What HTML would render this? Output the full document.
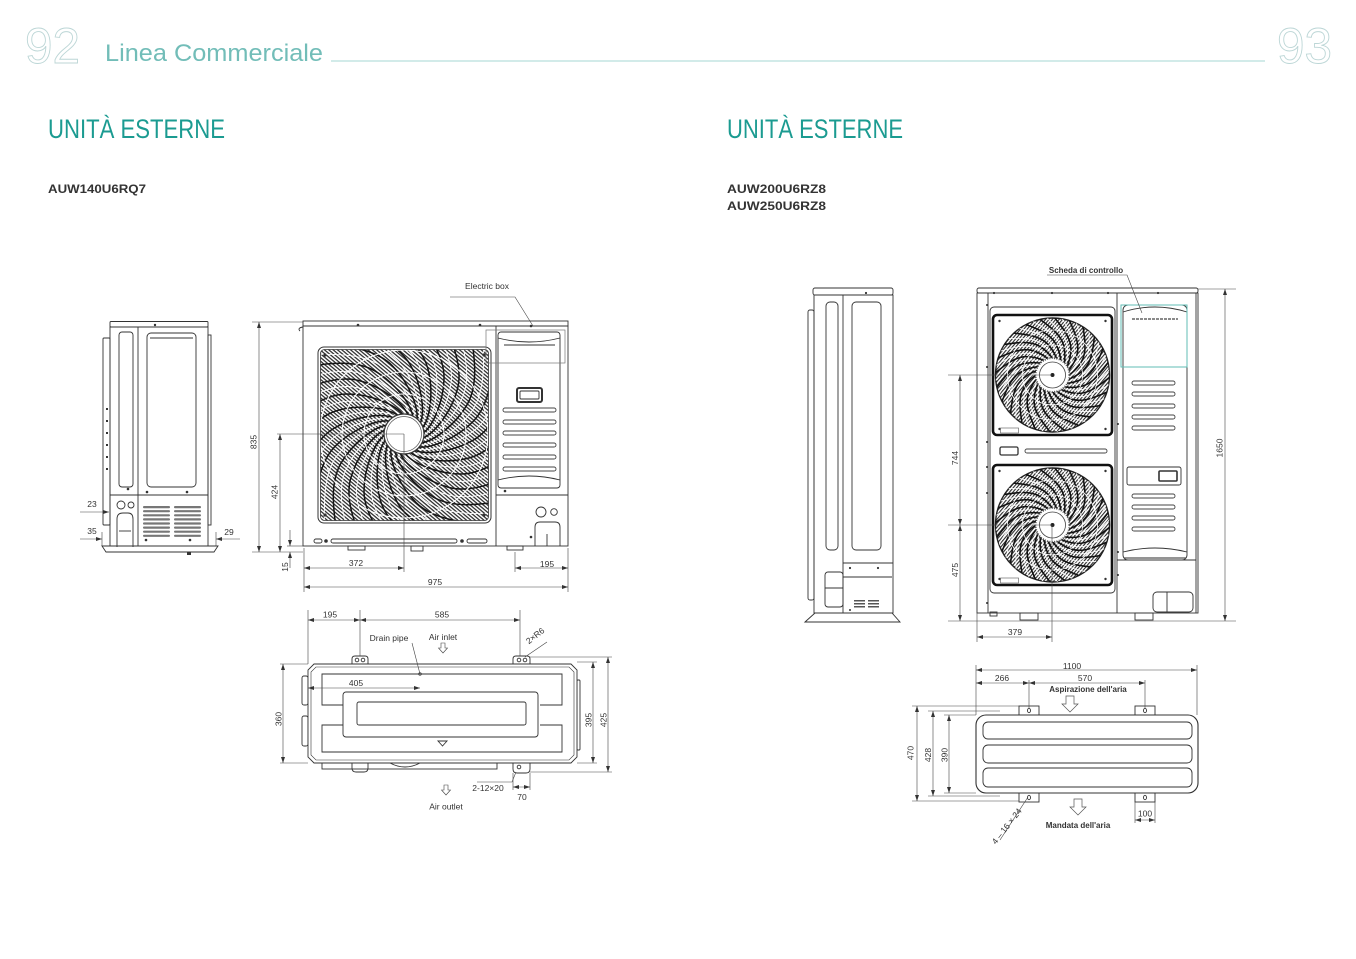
<!DOCTYPE html>
<html><head><meta charset="utf-8"><style>
html,body{margin:0;padding:0;background:#fff;}
svg{display:block;}
.t{font-family:"Liberation Sans",sans-serif;font-size:8.5px;fill:#333;}
.o{fill:none;stroke:#333;stroke-width:0.9;}
.d{fill:none;stroke:#444;stroke-width:0.6;}
.dm{fill:none;stroke:#444;stroke-width:0.6;marker-start:url(#ar);marker-end:url(#ar);}
.de{fill:none;stroke:#444;stroke-width:0.6;marker-end:url(#ar);}
.lv{fill:#fff;stroke:#444;stroke-width:0.9;}
</style></head><body>
<svg width="1356" height="959" viewBox="0 0 1356 959" xmlns="http://www.w3.org/2000/svg">
<defs>
<marker id="ar" viewBox="0 0 6 4" markerWidth="6" markerHeight="4" refX="6" refY="2" orient="auto-start-reverse" markerUnits="userSpaceOnUse"><path d="M0,0L6,2L0,4z" fill="#333"/></marker>
<pattern id="hp" width="2.8" height="2.8" patternUnits="userSpaceOnUse" patternTransform="rotate(40)"><rect width="2.8" height="1.25" fill="#2b2b2b"/></pattern>
<pattern id="hp2" width="2.6" height="2.6" patternUnits="userSpaceOnUse" patternTransform="rotate(-50)"><rect width="2.6" height="1.1" fill="#2b2b2b"/></pattern>
<path id="s1" d="M18,0 C30,-8 40,-35 40,-57 S25,-100 0,-130" fill="none"/>
<g id="sp">
<use href="#s1"/><use href="#s1" transform="rotate(15)"/><use href="#s1" transform="rotate(30)"/><use href="#s1" transform="rotate(45)"/>
<use href="#s1" transform="rotate(60)"/><use href="#s1" transform="rotate(75)"/><use href="#s1" transform="rotate(90)"/><use href="#s1" transform="rotate(105)"/>
<use href="#s1" transform="rotate(120)"/><use href="#s1" transform="rotate(135)"/><use href="#s1" transform="rotate(150)"/><use href="#s1" transform="rotate(165)"/>
<use href="#s1" transform="rotate(180)"/><use href="#s1" transform="rotate(195)"/><use href="#s1" transform="rotate(210)"/><use href="#s1" transform="rotate(225)"/>
<use href="#s1" transform="rotate(240)"/><use href="#s1" transform="rotate(255)"/><use href="#s1" transform="rotate(270)"/><use href="#s1" transform="rotate(285)"/>
<use href="#s1" transform="rotate(300)"/><use href="#s1" transform="rotate(315)"/><use href="#s1" transform="rotate(330)"/><use href="#s1" transform="rotate(345)"/>
</g>
<clipPath id="cl1"><rect x="320.5" y="349.5" width="168" height="171" rx="4"/></clipPath>
<clipPath id="cl2"><circle cx="0" cy="0" r="57"/></clipPath>
<g id="rfan">
<rect x="-59.5" y="-60" width="119" height="120" rx="4" fill="#fff" stroke="#111" stroke-width="2.6"/>
<circle r="57" fill="url(#hp2)" stroke="#222" stroke-width="1.4"/>
<g clip-path="url(#cl2)">
<use href="#sp" transform="scale(0.46)" stroke="#111" stroke-width="3.4"/>
<use href="#sp" transform="scale(0.46) rotate(7.5)" stroke="#fff" stroke-width="1.8"/>
<circle r="30" fill="none" stroke="#fff" stroke-width="0.8"/>
<circle r="45" fill="none" stroke="#fff" stroke-width="0.8"/>
</g>
<circle r="17" fill="#fff" stroke="#555" stroke-width="2" stroke-dasharray="1 1.4"/>
<circle r="13" fill="#fff" stroke="#444" stroke-width="0.8"/>
<circle r="2" fill="#222"/>
<circle cx="-53" cy="-54" r="1.2" fill="#333"/><circle cx="53" cy="-54" r="1.2" fill="#333"/>
<circle cx="-53" cy="54" r="1.2" fill="#333"/><circle cx="53" cy="54" r="1.2" fill="#333"/>
<rect x="-52" y="53" width="18" height="5" fill="#fff" stroke="#555" stroke-width="0.6"/>
</g>
</defs>

<!-- HEADER -->
<text x="25" y="63" font-family="Liberation Sans, sans-serif" font-size="50" fill="none" stroke="#bcd6d6" stroke-width="0.9" textLength="55" lengthAdjust="spacingAndGlyphs">92</text>
<text x="105" y="61" font-family="Liberation Sans, sans-serif" font-size="24" fill="#72bdb8" textLength="218" lengthAdjust="spacingAndGlyphs">Linea Commerciale</text>
<line x1="331" y1="61" x2="1265" y2="61" stroke="#a6d7d3" stroke-width="1"/>
<text x="1277" y="63" font-family="Liberation Sans, sans-serif" font-size="50" fill="none" stroke="#bcd6d6" stroke-width="0.9" textLength="55" lengthAdjust="spacingAndGlyphs">93</text>

<text x="48" y="138" font-family="Liberation Sans, sans-serif" font-size="27" fill="#1b9b91" textLength="177" lengthAdjust="spacingAndGlyphs">UNITÀ ESTERNE</text>
<text x="727" y="138" font-family="Liberation Sans, sans-serif" font-size="27" fill="#1b9b91" textLength="176" lengthAdjust="spacingAndGlyphs">UNITÀ ESTERNE</text>

<text x="48" y="193" font-family="Liberation Sans, sans-serif" font-size="12" font-weight="bold" fill="#333" textLength="98" lengthAdjust="spacingAndGlyphs">AUW140U6RQ7</text>
<text x="727" y="193" font-family="Liberation Sans, sans-serif" font-size="12" font-weight="bold" fill="#333" textLength="99" lengthAdjust="spacingAndGlyphs">AUW200U6RZ8</text>
<text x="727" y="210" font-family="Liberation Sans, sans-serif" font-size="12" font-weight="bold" fill="#333" textLength="99" lengthAdjust="spacingAndGlyphs">AUW250U6RZ8</text>

<!-- ============ LEFT: SIDE VIEW ============ -->
<g class="o">
<rect x="110" y="321.5" width="98" height="5.5" rx="1"/>
<rect x="110" y="327" width="98" height="219"/>
<rect x="103" y="338" width="7" height="187" rx="1"/>
<rect x="208" y="335" width="3" height="190"/>
<line x1="138" y1="327" x2="138" y2="546"/>
<rect x="119" y="332" width="14" height="155" rx="3"/>
<rect x="147" y="333" width="49" height="154" rx="4"/>
<line x1="150" y1="338" x2="193" y2="338"/>
<line x1="110" y1="495" x2="208" y2="495"/>
<circle cx="121" cy="505" r="4"/><circle cx="131" cy="505" r="3"/>
<path d="M117,547V519Q117,513 123,513H128Q133,513 133,519V547"/>
<line x1="119" y1="531" x2="131" y2="531"/>
<path d="M102,546H218L214,552H106Z"/>
</g>
<g fill="#777">
<rect x="143" y="506" width="27" height="2.2" rx="1"/><rect x="143" y="510.1" width="27" height="2.2" rx="1"/><rect x="143" y="514.2" width="27" height="2.2" rx="1"/><rect x="143" y="518.3" width="27" height="2.2" rx="1"/>
<rect x="143" y="522.4" width="27" height="2.2" rx="1"/><rect x="143" y="526.5" width="27" height="2.2" rx="1"/><rect x="143" y="530.6" width="27" height="2.2" rx="1"/><rect x="143" y="534.7" width="27" height="2.2" rx="1"/>
<rect x="174" y="506" width="27" height="2.2" rx="1"/><rect x="174" y="510.1" width="27" height="2.2" rx="1"/><rect x="174" y="514.2" width="27" height="2.2" rx="1"/><rect x="174" y="518.3" width="27" height="2.2" rx="1"/>
<rect x="174" y="522.4" width="27" height="2.2" rx="1"/><rect x="174" y="526.5" width="27" height="2.2" rx="1"/><rect x="174" y="530.6" width="27" height="2.2" rx="1"/><rect x="174" y="534.7" width="27" height="2.2" rx="1"/>
</g>
<g fill="#333">
<circle cx="128" cy="489" r="1.3"/><circle cx="147" cy="492" r="1.3"/><circle cx="187" cy="492" r="1.3"/><circle cx="146" cy="540" r="1.3"/><circle cx="190" cy="540" r="1.3"/><circle cx="155" cy="325" r="1.2"/>
<rect x="187" y="552" width="4" height="3"/>
<rect x="106" y="408" width="2" height="2"/><rect x="106" y="420" width="2" height="2"/><rect x="106" y="432" width="2" height="2"/><rect x="106" y="444" width="2" height="2"/><rect x="106" y="456" width="2" height="2"/><rect x="106" y="468" width="2" height="2"/>
</g>
<line class="de" x1="80" y1="512" x2="109" y2="512"/>
<line class="de" x1="80" y1="539" x2="102" y2="539"/>
<line class="de" x1="240" y1="539" x2="216" y2="539"/>
<line class="d" x1="102" y1="532" x2="102" y2="546"/>
<line class="d" x1="216" y1="532" x2="216" y2="546"/>
<text class="t" x="92" y="507" text-anchor="middle">23</text>
<text class="t" x="92" y="534" text-anchor="middle">35</text>
<text class="t" x="229" y="535" text-anchor="middle">29</text>

<!-- ============ LEFT: FRONT VIEW ============ -->
<g class="o">
<rect x="303" y="321" width="265" height="5"/>
<rect x="303" y="326" width="265" height="220"/>
<path d="M303,327 Q297,328 300,331"/>
<line x1="496" y1="326" x2="496" y2="546"/>
<line x1="496" y1="495" x2="568" y2="495"/>
</g>
<rect x="318" y="347" width="173" height="176" rx="6" fill="#fff" stroke="#333" stroke-width="1"/>
<g clip-path="url(#cl1)">
<rect x="318" y="347" width="173" height="176" fill="url(#hp)"/>
<g transform="translate(404,434)">
<use href="#sp" stroke="#151515" stroke-width="1.5"/>
<use href="#sp" transform="rotate(7.5)" stroke="#fff" stroke-width="0.9"/>
<circle r="40" fill="none" stroke="#fff" stroke-width="1"/>
<circle r="62" fill="none" stroke="#fff" stroke-width="1"/>
<circle r="84" fill="none" stroke="#fff" stroke-width="1"/>
</g>
</g>
<rect x="320.5" y="349.5" width="168" height="171" rx="4" fill="none" stroke="#333" stroke-width="0.8"/>
<circle cx="404" cy="434" r="20" fill="#fff" stroke="#333" stroke-width="1.2"/>
<circle cx="404" cy="434" r="17.5" fill="none" stroke="#555" stroke-width="0.7"/>
<g fill="#333">
<circle cx="325" cy="355" r="1.6"/><circle cx="484" cy="355" r="1.6"/><circle cx="325" cy="515" r="1.6"/><circle cx="484" cy="515" r="1.6"/>
<circle cx="358" cy="325" r="1.3"/><circle cx="480" cy="325" r="1.3"/><circle cx="531" cy="326" r="1.3"/>
<circle cx="505" cy="491" r="1.3"/><circle cx="531" cy="537" r="1.3"/>
<circle cx="326" cy="541" r="1.8"/><circle cx="462" cy="541" r="1.8"/>
</g>
<g class="o">
<rect x="498" y="332" width="62" height="156" rx="3"/>
<path d="M498,338 Q529,346 560,338"/>
<line x1="504" y1="345" x2="555" y2="345"/>
<path d="M498,480 Q529,472 560,480"/>
<rect x="517" y="388" width="25" height="14" rx="2" stroke-width="2"/>
<rect x="520" y="391" width="19" height="8" rx="1"/>
<circle cx="541" cy="512" r="5"/><circle cx="554" cy="512" r="3.3"/>
<path d="M535,546V527Q535,522 540,522H555Q560,522 560,527V546"/>
<line x1="547" y1="534" x2="547" y2="546"/>
<rect x="314" y="539" width="8" height="4" rx="2"/>
<rect x="331" y="539" width="126" height="4" rx="2"/>
<rect x="467" y="539" width="20" height="4" rx="2"/>
<rect x="348" y="546" width="17" height="4"/>
<rect x="507" y="546" width="16" height="4"/>
<rect x="411" y="546" width="12" height="5"/>
</g>
<rect x="503" y="408" width="53" height="4" rx="2" class="lv"/>
<rect x="503" y="420" width="53" height="4" rx="2" class="lv"/>
<rect x="503" y="431" width="53" height="4" rx="2" class="lv"/>
<rect x="503" y="443" width="53" height="4" rx="2" class="lv"/>
<rect x="503" y="455" width="53" height="4" rx="2" class="lv"/>
<rect x="503" y="467" width="53" height="4" rx="2" class="lv"/>
<rect x="486" y="330" width="79" height="33" fill="none" stroke="#777" stroke-width="0.7"/>
<!-- electric box label -->
<text class="t" x="487" y="289" text-anchor="middle">Electric box</text>
<polyline class="d" points="450,297 515,297 533,326"/>
<!-- dims front -->
<line class="d" x1="252" y1="322" x2="303" y2="322"/>
<line class="d" x1="252" y1="552" x2="303" y2="552"/>
<line class="d" x1="287" y1="546" x2="303" y2="546"/>
<line class="dm" x1="259" y1="322" x2="259" y2="552"/>
<text class="t" transform="translate(256.5,442) rotate(-90)" text-anchor="middle">835</text>
<line class="d" x1="277" y1="434" x2="404" y2="434"/>
<line class="dm" x1="280" y1="434" x2="280" y2="552"/>
<text class="t" transform="translate(277.5,492) rotate(-90)" text-anchor="middle">424</text>
<line class="de" x1="290" y1="530" x2="290" y2="546"/>
<line class="de" x1="290" y1="568" x2="290" y2="552"/>
<text class="t" transform="translate(288,567) rotate(-90)" text-anchor="middle">15</text>
<line class="d" x1="304" y1="548" x2="304" y2="592"/>
<line class="d" x1="568" y1="548" x2="568" y2="592"/>
<line class="d" x1="404" y1="434" x2="404" y2="572"/>
<line class="d" x1="515" y1="552" x2="515" y2="572"/>
<line class="dm" x1="304" y1="568" x2="404" y2="568"/>
<line class="dm" x1="515" y1="568" x2="568" y2="568"/>
<line class="dm" x1="304" y1="587" x2="568" y2="587"/>
<text class="t" x="356" y="566" text-anchor="middle">372</text>
<text class="t" x="547" y="567" text-anchor="middle">195</text>
<text class="t" x="435" y="585" text-anchor="middle">975</text>

<!-- ============ LEFT: TOP VIEW ============ -->
<g class="o">
<rect x="302" y="676" width="6" height="29" rx="2"/>
<rect x="302" y="716" width="6" height="30" rx="2"/>
<rect x="577" y="680" width="3" height="70" rx="1"/>
<rect x="322" y="763" width="175" height="6"/>
<path d="M390,763 Q405,771 420,763"/>
<path d="M314,664H571L577,670V757L571,763H314L308,757V670Z" fill="#fff"/>
<path d="M316,667H569L574,672V755L569,760H316L311,755V672Z" stroke-width="0.6"/>
<path d="M343,705H322V674H562V705H540 M343,725H322V752H562V725H540"/>
<rect x="343" y="692" width="195" height="45" rx="3"/>
<rect x="357" y="702" width="169" height="23" rx="2"/>
<path d="M438,741H447L442.5,746Z"/>
<path d="M352,664V659Q352,656 355,656H365Q368,656 368,659V664"/>
<path d="M513,664V659Q513,656 516,656H527Q530,656 530,659V664"/>
<path d="M352,763V768Q352,772 356,772H364Q368,772 368,768V763"/>
<path d="M513,763V769Q513,773 517,773H526Q530,773 530,769V763"/>
<circle cx="357" cy="660" r="1.8"/><circle cx="363" cy="660" r="1.8"/>
<circle cx="519" cy="660" r="1.8"/><circle cx="525" cy="660" r="1.8"/>
<circle cx="519" cy="767" r="1.8"/>
</g>
<circle cx="420" cy="674" r="1.3" fill="none" stroke="#333" stroke-width="0.7"/>
<line class="d" x1="308" y1="610" x2="308" y2="664"/>
<line class="d" x1="360" y1="610" x2="360" y2="656"/>
<line class="d" x1="520" y1="610" x2="520" y2="656"/>
<line class="dm" x1="308" y1="620" x2="360" y2="620"/>
<line class="dm" x1="360" y1="620" x2="520" y2="620"/>
<text class="t" x="330" y="617.5" text-anchor="middle">195</text>
<text class="t" x="442" y="617.5" text-anchor="middle">585</text>
<text class="t" x="389" y="641" text-anchor="middle">Drain pipe</text>
<polyline class="d" points="412,643 420,674"/>
<text class="t" x="443" y="640" text-anchor="middle">Air inlet</text>
<path d="M441,643h4v5h2.5l-4.5,5l-4.5,-5h2.5z" fill="#fff" stroke="#444" stroke-width="0.6"/>
<line class="dm" x1="308" y1="688" x2="420" y2="688"/>
<text class="t" x="356" y="686" text-anchor="middle">405</text>
<line class="d" x1="525" y1="657" x2="547" y2="642"/>
<text class="t" transform="translate(537,638) rotate(-38)" text-anchor="middle">2×R6</text>
<line class="d" x1="280" y1="664" x2="308" y2="664"/>
<line class="d" x1="280" y1="763" x2="308" y2="763"/>
<line class="dm" x1="283" y1="664" x2="283" y2="763"/>
<text class="t" transform="translate(281.5,719) rotate(-90)" text-anchor="middle">360</text>
<line class="d" x1="530" y1="657" x2="612" y2="657"/>
<line class="d" x1="577" y1="662" x2="597" y2="662"/>
<line class="d" x1="577" y1="763" x2="597" y2="763"/>
<line class="d" x1="530" y1="772" x2="612" y2="772"/>
<line class="dm" x1="593" y1="662" x2="593" y2="763"/>
<line class="dm" x1="608" y1="657" x2="608" y2="772"/>
<text class="t" transform="translate(591.5,720) rotate(-90)" text-anchor="middle">395</text>
<text class="t" transform="translate(606.5,720) rotate(-90)" text-anchor="middle">425</text>
<line class="d" x1="513" y1="773" x2="513" y2="790"/>
<line class="d" x1="530" y1="773" x2="530" y2="790"/>
<line class="dm" x1="513" y1="787" x2="530" y2="787"/>
<text class="t" x="522" y="800" text-anchor="middle">70</text>
<polyline class="d" points="477,782 512,782 516,772"/>
<text class="t" x="488" y="791" text-anchor="middle">2-12×20</text>
<path d="M444,785h4v5h2.5l-4.5,5l-4.5,-5h2.5z" fill="#fff" stroke="#444" stroke-width="0.6"/>
<text class="t" x="446" y="809.5" text-anchor="middle">Air outlet</text>

<!-- ============ RIGHT: SIDE VIEW ============ -->
<g class="o">
<rect x="813" y="288" width="80" height="7" rx="2"/>
<rect x="814" y="295" width="79" height="318"/>
<rect x="808" y="310" width="6" height="290" rx="2"/>
<line x1="843" y1="295" x2="843" y2="613"/>
<rect x="826" y="302" width="12" height="248" rx="4"/>
<rect x="852" y="302" width="29" height="248" rx="4"/>
<line x1="843" y1="563" x2="893" y2="563"/>
<line x1="843" y1="577" x2="892" y2="577"/>
<rect x="825" y="572" width="18" height="35" rx="3"/>
<line x1="825" y1="588" x2="843" y2="588"/>
<path d="M805,622L815,613H892L900,622Z"/>
</g>
<g fill="#555">
<rect x="854" y="600" width="11" height="1.5"/><rect x="854" y="603" width="11" height="1.5"/><rect x="854" y="606" width="11" height="1.5"/>
<rect x="868" y="600" width="11" height="1.5"/><rect x="868" y="603" width="11" height="1.5"/><rect x="868" y="606" width="11" height="1.5"/>
</g>
<g fill="#333"><circle cx="866" cy="293" r="1.1"/><circle cx="850" cy="568" r="1.1"/><circle cx="878" cy="568" r="1.1"/><circle cx="850" cy="610" r="1"/></g>

<!-- ============ RIGHT: FRONT VIEW ============ -->
<g class="o">
<rect x="977" y="288" width="221" height="5" rx="2"/>
<rect x="977" y="293" width="221" height="320"/>
<line x1="988" y1="293" x2="988" y2="613"/>
<rect x="990" y="307" width="125" height="286" rx="4"/>
<line x1="1117" y1="293" x2="1117" y2="613"/>
<line x1="1196" y1="293" x2="1196" y2="613"/>
<rect x="1123" y="305" width="64" height="255" rx="5"/>
<path d="M1123,312 Q1155,302 1187,312"/>
<path d="M1123,552 Q1155,544 1187,552"/>
<line x1="1117" y1="560" x2="1196" y2="560"/>
<rect x="1127" y="467" width="54" height="18" rx="2"/>
<rect x="1159" y="471" width="18" height="10" rx="1" stroke-width="1.6"/>
<rect x="1000" y="447" width="18" height="8" rx="1.5" stroke-width="1.3"/>
<rect x="1153" y="592" width="40" height="20" rx="4"/>
<line x1="1167" y1="592" x2="1167" y2="612"/>
<rect x="1020" y="613" width="18" height="7"/>
<rect x="1135" y="613" width="18" height="7"/>
<rect x="990" y="612" width="7" height="4"/>
</g>
<rect x="1025" y="449" width="82" height="4" rx="2" class="lv"/>
<rect x="1132" y="381" width="43" height="4" rx="2" class="lv"/>
<rect x="1132" y="392" width="43" height="4" rx="2" class="lv"/>
<rect x="1132" y="404" width="43" height="4" rx="2" class="lv"/>
<rect x="1132" y="415" width="43" height="4" rx="2" class="lv"/>
<rect x="1132" y="426" width="43" height="4" rx="2" class="lv"/>
<rect x="1132" y="494" width="43" height="4" rx="2" class="lv"/>
<rect x="1132" y="505" width="43" height="4" rx="2" class="lv"/>
<rect x="1132" y="516" width="43" height="4" rx="2" class="lv"/>
<rect x="1132" y="527" width="43" height="4" rx="2" class="lv"/>
<line x1="1124" y1="558" x2="1186" y2="558" stroke="#555" stroke-width="1.2"/>
<line x1="1132" y1="319" x2="1178" y2="319" stroke="#444" stroke-width="1.2" stroke-dasharray="3 1"/>
<rect x="1121" y="305" width="66" height="62" fill="none" stroke="#62beb6" stroke-width="1"/>
<use href="#rfan" transform="translate(1052.5,375)"/>
<use href="#rfan" transform="translate(1052.5,525)"/>
<g fill="#333">
<circle cx="994" cy="293" r="1.1"/><circle cx="1052" cy="293" r="1.1"/><circle cx="1108" cy="293" r="1.1"/><circle cx="1158" cy="293" r="1.1"/>
<circle cx="987" cy="305" r="1"/><circle cx="987" cy="367" r="1"/><circle cx="987" cy="442" r="1"/><circle cx="987" cy="467" r="1"/><circle cx="987" cy="493" r="1"/><circle cx="987" cy="603" r="1"/>
<circle cx="1118" cy="424" r="1"/><circle cx="1118" cy="552" r="1"/><circle cx="1118" cy="575" r="1"/>
</g>
<text class="t" x="1086" y="273" text-anchor="middle" font-weight="bold" style="font-size:8px">Scheda di controllo</text>
<polyline class="d" points="1047,275 1127,275 1142,313"/>
<!-- dims right front -->
<line class="d" x1="1198" y1="289" x2="1236" y2="289"/>
<line class="d" x1="948" y1="621" x2="1236" y2="621"/>
<line class="dm" x1="1225" y1="289" x2="1225" y2="621"/>
<text class="t" transform="translate(1222.5,448) rotate(-90)" text-anchor="middle">1650</text>
<line class="d" x1="948" y1="375" x2="1052" y2="375"/>
<line class="d" x1="948" y1="525" x2="1052" y2="525"/>
<line class="dm" x1="960" y1="375" x2="960" y2="525"/>
<line class="dm" x1="960" y1="525" x2="960" y2="621"/>
<text class="t" transform="translate(958,458) rotate(-90)" text-anchor="middle">744</text>
<text class="t" transform="translate(958,570) rotate(-90)" text-anchor="middle">475</text>
<line class="d" x1="977" y1="613" x2="977" y2="642"/>
<line class="d" x1="1052" y1="525" x2="1052" y2="642"/>
<line class="dm" x1="977" y1="637" x2="1052" y2="637"/>
<text class="t" x="1015" y="635" text-anchor="middle">379</text>

<!-- ============ RIGHT: TOP VIEW ============ -->
<g class="o">
<rect x="1019" y="706" width="20" height="9"/>
<rect x="1135" y="706" width="20" height="9"/>
<rect x="1019" y="793" width="20" height="9"/>
<rect x="1135" y="793" width="20" height="9"/>
<ellipse cx="1029" cy="710.5" rx="1.5" ry="2.2"/><ellipse cx="1145" cy="710.5" rx="1.5" ry="2.2"/>
<ellipse cx="1029" cy="797.5" rx="1.5" ry="2.2"/><ellipse cx="1145" cy="797.5" rx="1.5" ry="2.2"/>
<rect x="976" y="715" width="222" height="78" rx="10" fill="#fff" stroke-width="1.1"/>
<rect x="983" y="722" width="209" height="17" rx="5"/>
<rect x="983" y="745" width="209" height="18" rx="5"/>
<rect x="983" y="768" width="209" height="19" rx="5"/>
</g>
<line class="d" x1="976" y1="665" x2="976" y2="715"/>
<line class="d" x1="1197" y1="665" x2="1197" y2="715"/>
<line class="d" x1="1029" y1="680" x2="1029" y2="708"/>
<line class="d" x1="1145" y1="680" x2="1145" y2="708"/>
<line class="dm" x1="976" y1="670" x2="1197" y2="670"/>
<line class="dm" x1="976" y1="683" x2="1029" y2="683"/>
<line class="dm" x1="1029" y1="683" x2="1145" y2="683"/>
<text class="t" x="1072" y="669" text-anchor="middle">1100</text>
<text class="t" x="1002" y="681" text-anchor="middle">266</text>
<text class="t" x="1085" y="681" text-anchor="middle">570</text>
<text class="t" x="1088" y="692" text-anchor="middle" font-weight="bold" style="font-size:8px">Aspirazione dell'aria</text>
<path d="M1066,696h8v8h4l-8,8l-8,-8h4z" fill="#fff" stroke="#555" stroke-width="0.7"/>
<line class="d" x1="912" y1="706" x2="1019" y2="706"/>
<line class="d" x1="912" y1="801" x2="1019" y2="801"/>
<line class="d" x1="928" y1="711" x2="1000" y2="711"/>
<line class="d" x1="928" y1="796" x2="1000" y2="796"/>
<line class="d" x1="944" y1="715" x2="976" y2="715"/>
<line class="d" x1="944" y1="793" x2="976" y2="793"/>
<line class="dm" x1="917" y1="706" x2="917" y2="801"/>
<line class="dm" x1="933" y1="711" x2="933" y2="796"/>
<line class="dm" x1="949" y1="715" x2="949" y2="793"/>
<text class="t" transform="translate(913.5,753) rotate(-90)" text-anchor="middle">470</text>
<text class="t" transform="translate(931,755) rotate(-90)" text-anchor="middle">428</text>
<text class="t" transform="translate(947.5,755) rotate(-90)" text-anchor="middle">390</text>
<line class="d" x1="1028" y1="797" x2="1000" y2="840"/>
<text class="t" transform="translate(1009,828) rotate(-52)" text-anchor="middle">4 – 16 × 24</text>
<path d="M1074,799h8v8h4l-8,8l-8,-8h4z" fill="#fff" stroke="#555" stroke-width="0.7"/>
<text class="t" x="1078" y="828" text-anchor="middle" font-weight="bold" style="font-size:8px">Mandata dell'aria</text>
<line class="d" x1="1135" y1="802" x2="1135" y2="823"/>
<line class="d" x1="1155" y1="802" x2="1155" y2="823"/>
<line class="dm" x1="1135" y1="820" x2="1155" y2="820"/>
<text class="t" x="1145" y="816.5" text-anchor="middle">100</text>
</svg>
</body></html>
